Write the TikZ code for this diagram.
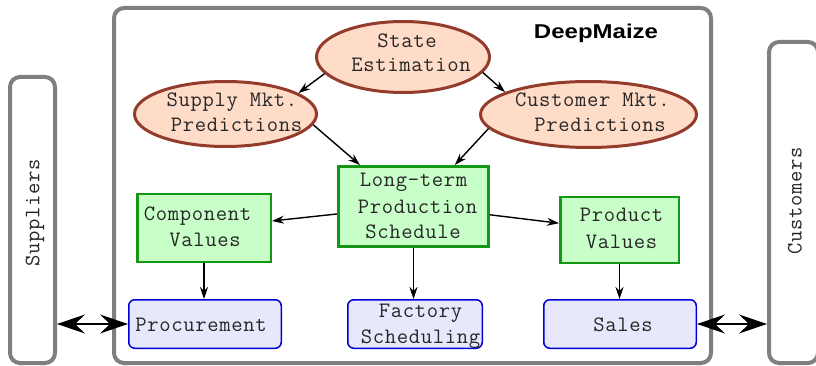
\documentclass[tikz,border=0pt]{standalone}
\usepackage{fontspec}
\newfontfamily\monofam{Latin Modern Mono}[LetterSpace=3]
\newfontfamily\sansfam{Liberation Sans}
\usetikzlibrary{shapes.geometric,arrows.meta,calc}
\definecolor{framegray}{HTML}{7F7F7F}
\definecolor{peach}{HTML}{FFDCC8}
\definecolor{brick}{HTML}{943C2C}
\definecolor{mint}{HTML}{C8FFC8}
\definecolor{leaf}{HTML}{159615}
\definecolor{lavender}{HTML}{E8E8FC}
\definecolor{royal}{HTML}{0000D4}
\definecolor{ink}{HTML}{262626}
\begin{document}
\begin{tikzpicture}[x=1pt,y=-1pt,
  frame/.style={draw=framegray, line width=4pt, rounded corners=10pt, fill=white, inner sep=0pt},
  estim/.style={ellipse, draw=brick, fill=peach, line width=3pt, inner sep=0pt},
  valbox/.style={rectangle, draw=leaf, fill=mint, line width=2.5pt, inner sep=0pt},
  actbox/.style={rectangle, rounded corners=6pt, draw=royal, fill=lavender, line width=1.5pt, inner sep=0pt},
  txt/.style={font=\monofam\fontsize{22}{26}\selectfont, text=ink, inner sep=0pt, anchor=base},
  flow/.style={-{Stealth[length=12pt,width=8pt,inset=4pt]}, line width=1.4pt},
  trade/.style={{Stealth[length=28pt,width=19pt,inset=10pt]}-{Stealth[length=28pt,width=19pt,inset=10pt]}, line width=1.4pt},
]
\useasboundingbox (0,0) rectangle (816,366);

% outer frames: the agent and its two markets
\node[frame, minimum width=597pt, minimum height=355pt] (dm) at (412.5,185.5) {};
\node[frame, minimum width=45pt, minimum height=286pt] (supp) at (32.5,220) {};
\node[frame, minimum width=49pt, minimum height=321pt] (custs) at (793.5,202.5) {};
\node[txt, anchor=center, rotate=90] (supp-t) at (35,213) {Suppliers};
\node[txt, anchor=center, rotate=90] (custs-t) at (795,201) {Customers};
\node[font=\sansfam\bfseries\fontsize{20}{24}\selectfont, inner sep=0pt, anchor=base] (dm-t) at (596,39) {\scalebox{1.2}[1]{DeepMaize}};

% prediction ellipses
\node[estim, minimum width=173pt, minimum height=71pt] (state) at (403,57) {};
\node[estim, minimum width=182pt, minimum height=65pt] (supply) at (225.5,114) {};
\node[estim, minimum width=216pt, minimum height=66pt] (custm) at (588.5,114.5) {};

% planning boxes
\node[valbox, line width=3pt, minimum width=150pt, minimum height=80pt] (ltps) at (413.5,206.5) {};
\node[valbox, minimum width=133.5pt, minimum height=67.5pt] (comp) at (204,228) {};
\node[valbox, minimum width=118.5pt, minimum height=65.5pt] (prod) at (619.5,230) {};

% action boxes
\node[actbox, minimum width=152.5pt, minimum height=48.5pt] (proc) at (205,324) {};
\node[actbox, minimum width=134.5pt, minimum height=48.5pt] (fact) at (415,324) {};
\node[actbox, minimum width=152.5pt, minimum height=48.5pt] (sales) at (620,324) {};

% labels, one node per line
\node[txt] (state-1) at (407,48) {State};
\node[txt] (state-2) at (411,72) {Estimation};
\node[txt] (supply-1) at (232,107) {Supply Mkt.};
\node[txt] (supply-2) at (236.5,132) {Predictions};
\node[txt] (custm-1) at (592.5,107) {Customer Mkt.};
\node[txt] (custm-2) at (600,132) {Predictions};
\node[txt] (ltps-1) at (413.5,187) {Long-term};
\node[txt] (ltps-2) at (417.5,213) {Production};
\node[txt] (ltps-3) at (413,238) {Schedule};
\node[txt] (comp-1) at (197.5,220) {Component};
\node[txt] (comp-2) at (205,246) {Values};
\node[txt] (prod-1) at (621.5,222) {Product};
\node[txt] (prod-2) at (621.5,248) {Values};
\node[txt] (proc-1) at (201,331) {Procurement};
\node[txt] (fact-1) at (420.5,317) {Factory};
\node[txt] (fact-2) at (420.5,343) {Scheduling};
\node[txt] (sales-1) at (623,331) {Sales};

% information flow
\draw[flow] (state.192) -- (supply.16);
\draw[flow] (state.349) -- (custm.165);
\draw[flow] (supply.353) -- ($(ltps.north west)!0.15!(ltps.north east)$);
\draw[flow] (custm.188) -- ($(ltps.north west)!0.77!(ltps.north east)$);
\draw[flow] ($(ltps.north west)!0.59!(ltps.south west)$) -- ($(comp.north east)!0.4!(comp.south east)$);
\draw[flow] ($(ltps.north east)!0.6!(ltps.south east)$) -- ($(prod.north west)!0.4!(prod.south west)$);
\draw[flow] (ltps.south) -- (ltps.south |- fact.north);
\draw[flow] (comp.south) -- (comp.south |- proc.north);
\draw[flow] (prod.south) -- (prod.south |- sales.north);

% trade with the markets
\draw[trade] (supp.east |- proc.west) -- (proc.west);
\draw[trade] (sales.east) -- (sales.east -| custs.west);
\end{tikzpicture}
\end{document}
